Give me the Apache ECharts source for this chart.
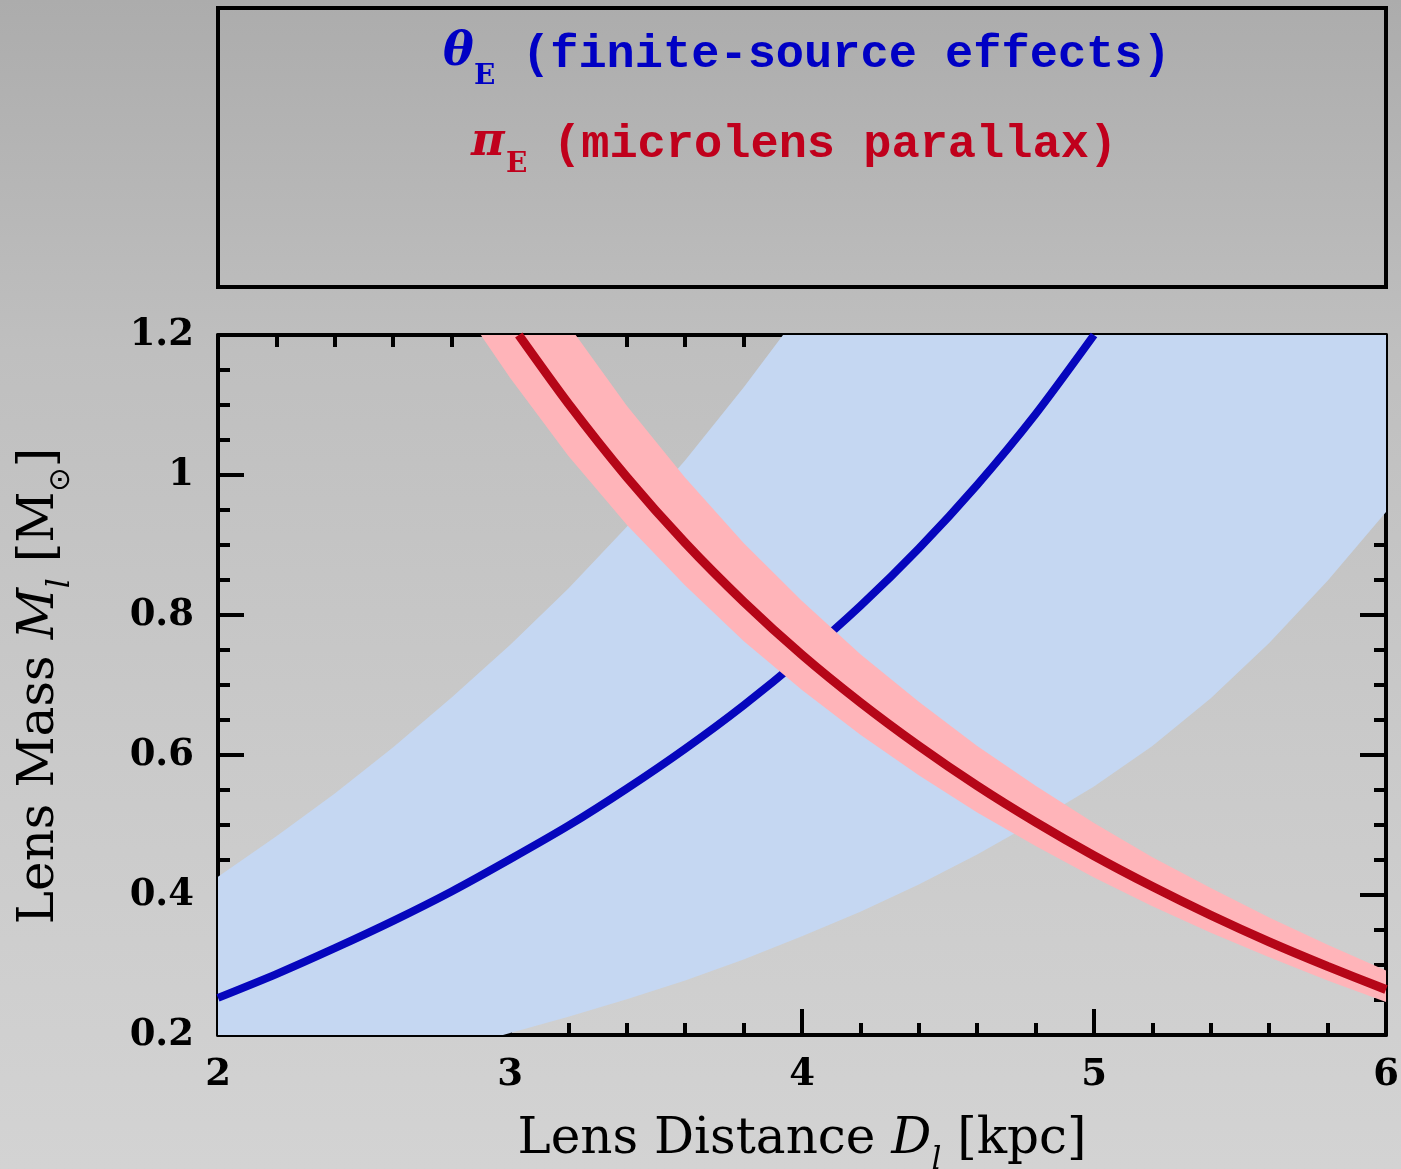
<!DOCTYPE html>
<html>
<head>
<meta charset="utf-8">
<title>Lens mass vs lens distance</title>
<script src="https://cdn.jsdelivr.net/npm/echarts@6.0.0/dist/echarts.min.js"></script>
<style>
  html, body { margin: 0; padding: 0; }
  #chart { width: 1401px; height: 1169px; }
</style>
</head>
<body>
<div id="chart"></div>
<script>
// 轴刻度标签
const xTickLabels = ["2", "3", "4", "5", "6"];
const yTickLabels = ["0.2", "0.4", "0.6", "0.8", "1", "1.2"];

// theta_E 中心线 (kpc, Msun)
const thetaX = [2.0, 2.2, 2.4, 2.6, 2.8, 3.0, 3.2, 3.4, 3.6, 3.8, 4.0, 4.2, 4.4, 4.6, 4.8, 5.0];
const thetaMass = [0.253, 0.287, 0.324, 0.363, 0.405, 0.451, 0.499, 0.552, 0.609, 0.671, 0.739, 0.813, 0.895, 0.986, 1.087, 1.2];

// theta_E 允许区间 上边界 / 下边界
const thetaHiX = [2.0, 2.2, 2.4, 2.6, 2.8, 3.0, 3.2, 3.4, 3.6, 3.8, 3.935, 6.0];
const thetaHiMass = [0.426, 0.484, 0.545, 0.611, 0.682, 0.757, 0.838, 0.926, 1.021, 1.125, 1.2, 1.2];
const thetaLoX = [2.0, 2.976, 3.2, 3.4, 3.6, 3.8, 4.0, 4.2, 4.4, 4.6, 4.8, 5.0, 5.2, 5.4, 5.6, 5.8, 6.0];
const thetaLoMass = [0.2, 0.2, 0.226, 0.251, 0.278, 0.308, 0.341, 0.376, 0.415, 0.458, 0.505, 0.555, 0.613, 0.681, 0.76, 0.849, 0.947];

// pi_E 中心线
const piX = [3.03, 3.2, 3.4, 3.6, 3.8, 4.0, 4.2, 4.4, 4.6, 4.8, 5.0, 5.2, 5.4, 5.6, 5.8, 6.0];
const piMass = [1.2, 1.102, 0.997, 0.903, 0.819, 0.743, 0.675, 0.613, 0.556, 0.504, 0.456, 0.412, 0.371, 0.333, 0.298, 0.265];

// pi_E 误差带
const piLoX = [2.9, 3.0, 3.2, 3.4, 3.6, 3.8, 4.0, 4.2, 4.4, 4.6, 4.8, 5.0, 5.2, 5.4, 5.6, 5.8, 6.0];
const piLoMass = [1.2, 1.139, 1.027, 0.929, 0.842, 0.763, 0.693, 0.629, 0.571, 0.518, 0.47, 0.425, 0.384, 0.346, 0.311, 0.278, 0.247];
const piHiX = [3.225, 3.4, 3.6, 3.8, 4.0, 4.2, 4.4, 4.6, 4.8, 5.0, 5.2, 5.4, 5.6, 5.8, 6.0];
const piHiMass = [1.2, 1.099, 0.996, 0.903, 0.82, 0.744, 0.676, 0.613, 0.556, 0.503, 0.454, 0.41, 0.368, 0.329, 0.292];

const BLUE = "#0606bd";
const RED = "#b50618";
const BAND_BLUE = "#c5d7f2";
const BAND_PINK = "#ffb4b9";

function pairs(xs, ys) {
  return xs.map((x, i) => [x, ys[i]]);
}

// 用坐标轴把上下边界围成一个多边形
function bandRenderer(loX, loY, hiX, hiY, color) {
  return function (params, api) {
    const points = [];
    for (let i = 0; i < loX.length; i++) points.push(api.coord([loX[i], loY[i]]));
    for (let i = hiX.length - 1; i >= 0; i--) points.push(api.coord([hiX[i], hiY[i]]));
    return {
      type: "polygon",
      shape: { points: points },
      style: { fill: color },
      silent: true,
    };
  };
}

const tickFont = { fontFamily: "DejaVu Serif", fontWeight: "bold", fontSize: 37, color: "#000" };
const axisLine = { show: true, lineStyle: { color: "#000", width: 4 } };

function xAxisCfg(pos, showLabel) {
  return {
    type: "value",
    position: pos,
    min: 2,
    max: 6,
    interval: 1,
    axisLine: axisLine,
    axisTick: { show: true, inside: true, length: 26, lineStyle: { color: "#000", width: 4 } },
    minorTick: { show: true, splitNumber: 5, length: 12, lineStyle: { color: "#000", width: 4 } },
    splitLine: { show: false },
    minorSplitLine: { show: false },
    axisLabel: Object.assign({
      show: showLabel,
      margin: 22,
      showMinLabel: true,
      showMaxLabel: true,
      formatter: (v) => xTickLabels[Math.round(v - 2)],
    }, tickFont),
  };
}

function yAxisCfg(pos, showLabel) {
  return {
    type: "value",
    position: pos,
    min: 0.2,
    max: 1.2,
    interval: 0.2,
    axisLine: axisLine,
    axisTick: { show: true, inside: true, length: 26, lineStyle: { color: "#000", width: 4 } },
    minorTick: { show: true, splitNumber: 4, length: 12, lineStyle: { color: "#000", width: 4 } },
    splitLine: { show: false },
    minorSplitLine: { show: false },
    axisLabel: Object.assign({
      show: showLabel,
      margin: 24,
      showMinLabel: true,
      showMaxLabel: true,
      formatter: (v) => yTickLabels[Math.round((v - 0.2) / 0.2)],
    }, tickFont),
  };
}

const chart = echarts.init(document.getElementById("chart"), null, { renderer: "canvas" });

const titleRich = {
  n: { fontFamily: "DejaVu Serif", fontSize: 50, lineHeight: 72, color: "#000" },
  i: { fontFamily: "DejaVu Serif", fontStyle: "italic", fontSize: 50, lineHeight: 72, color: "#000" },
  s: { fontFamily: "DejaVu Serif", fontStyle: "italic", fontSize: 31, lineHeight: 31, verticalAlign: "bottom", color: "#000" },
  o: { fontFamily: "DejaVu Sans", fontSize: 29, lineHeight: 31, verticalAlign: "bottom", color: "#000" },
};

const option = {
  animation: false,
  backgroundColor: {
    type: "linear", x: 0, y: 0, x2: 0, y2: 1,
    colorStops: [
      { offset: 0, color: "#acacac" },
      { offset: 0.3, color: "#bfbfbf" },
      { offset: 0.65, color: "#cacaca" },
      { offset: 1, color: "#d3d3d3" },
    ],
  },
  grid: { left: 218, right: 15, top: 335, bottom: 134, containLabel: false, outerBoundsMode: "none" },
  xAxis: [xAxisCfg("bottom", true), xAxisCfg("top", false)],
  yAxis: [yAxisCfg("left", true), yAxisCfg("right", false)],
  series: [
    {
      name: "thetaE band",
      type: "custom",
      data: [[4, 0.7]],
      clip: true,
      z: 1,
      renderItem: bandRenderer(thetaLoX, thetaLoMass, thetaHiX, thetaHiMass, BAND_BLUE),
    },
    {
      name: "thetaE",
      type: "line",
      data: pairs(thetaX, thetaMass),
      showSymbol: false,
      smooth: 0.25,
      clip: true,
      z: 2,
      lineStyle: { color: BLUE, width: 8 },
    },
    {
      name: "piE band",
      type: "custom",
      data: [[4, 0.7]],
      clip: true,
      z: 3,
      renderItem: bandRenderer(piLoX, piLoMass, piHiX, piHiMass, BAND_PINK),
    },
    {
      name: "piE",
      type: "line",
      data: pairs(piX, piMass),
      showSymbol: false,
      smooth: 0.25,
      clip: true,
      z: 4,
      lineStyle: { color: RED, width: 9 },
    },
  ],
  graphic: [
    // 上方图例框
    {
      type: "rect",
      shape: { x: 218, y: 8, width: 1168, height: 279 },
      style: { fill: "none", stroke: "#000", lineWidth: 4 },
    },
    {
      type: "text", x: 443, y: 53,
      style: { text: "θ", font: 'italic bold 46px "DejaVu Serif"', fill: "#0000c4", verticalAlign: "middle" },
    },
    {
      type: "text", x: 474, y: 77,
      style: { text: "E", font: 'bold 28px "DejaVu Serif"', fill: "#0000c4", verticalAlign: "middle" },
    },
    {
      type: "text", x: 522, y: 55,
      style: { text: "(finite-source effects)", font: 'bold 47px "Liberation Mono"', fill: "#0000c4", verticalAlign: "middle" },
    },
    {
      type: "text", x: 471, y: 143,
      style: { text: "π", font: 'italic bold 46px "DejaVu Serif"', fill: "#c0001c", verticalAlign: "middle" },
    },
    {
      type: "text", x: 506, y: 165,
      style: { text: "E", font: 'bold 28px "DejaVu Serif"', fill: "#c0001c", verticalAlign: "middle" },
    },
    {
      type: "text", x: 553, y: 145,
      style: { text: "(microlens parallax)", font: 'bold 47px "Liberation Mono"', fill: "#c0001c", verticalAlign: "middle" },
    },
    // 坐标轴标题
    {
      type: "text", x: 802, y: 1140,
      style: {
        text: "{n|Lens Distance }{i|D}{s|l}{n| [kpc]}",
        rich: titleRich,
        align: "center",
        verticalAlign: "middle",
      },
    },
    {
      type: "text", x: 40, y: 686, rotation: Math.PI / 2,
      style: {
        text: "{n|Lens Mass }{i|M}{s|l}{n| [M}{o|⊙}{n|]}",
        rich: titleRich,
        align: "center",
        verticalAlign: "middle",
      },
    },
  ],
};

chart.setOption(option);
</script>
</body>
</html>
